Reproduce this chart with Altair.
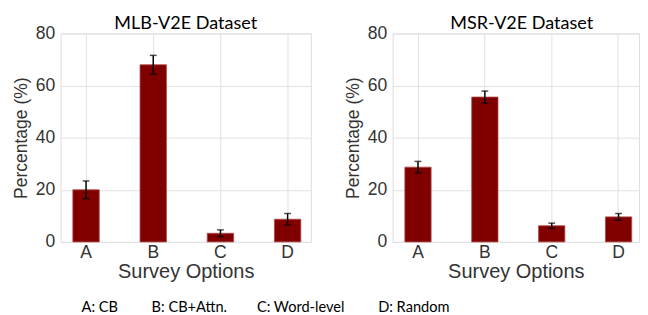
import altair as alt
import pandas as pd

options = ["A", "B", "C", "D"]
mlb_values = [20.0, 68.0, 3.3, 8.7]
mlb_errors = [3.4, 3.6, 1.3, 2.2]
msr_values = [28.7, 55.6, 6.2, 9.6]
msr_errors = [2.2, 2.3, 1.0, 1.3]
legend_labels = ["A: CB", "B: CB+Attn.", "C: Word-level", "D: Random"]
legend_gaps = [9, 8, 9]

BAR = "#800000"


def panel(title, values, errors, width, pad_outer, align, title_dx):
    df = pd.DataFrame({"option": options, "value": values, "err": errors})
    df["lo"] = df["value"] - df["err"]
    df["hi"] = df["value"] + df["err"]
    base = alt.Chart(df)
    xscale = alt.Scale(paddingInner=0.607, paddingOuter=pad_outer, align=align)
    x = alt.X(
        "option:N",
        scale=xscale,
        axis=alt.Axis(
            title="Survey Options",
            labelAngle=0,
            bandPosition=0.5,
            grid=True,
            labelPadding=2,
            titlePadding=1,
            titleFontSize=20.5,
        ),
    )
    y = alt.Y(
        "value:Q",
        scale=alt.Scale(domain=[0, 80], nice=False),
        axis=alt.Axis(
            values=[0, 20, 40, 60, 80],
            title="Percentage (%)",
            labelPadding=6,
            titlePadding=5,
            titleFontSize=18,
        ),
    )
    bars = base.mark_bar(color=BAR, stroke="#b04848", strokeWidth=0.8).encode(x=x, y=y)
    rule = base.mark_rule(color="black", strokeWidth=1.5).encode(
        x=alt.X("option:N", scale=xscale), y=alt.Y("lo:Q"), y2="hi:Q"
    )
    cap_hi = base.mark_tick(color="black", size=7, thickness=1.5).encode(
        x=alt.X("option:N", scale=xscale), y="hi:Q"
    )
    cap_lo = base.mark_tick(color="black", size=7, thickness=1.5).encode(
        x=alt.X("option:N", scale=xscale), y="lo:Q"
    )
    return alt.layer(bars, rule, cap_hi, cap_lo).properties(
        width=width,
        height=214,
        title=alt.TitleParams(
            text=title,
            font="Lato",
            fontSize=18.5,
            fontWeight="normal",
            color="black",
            offset=-8,
            dx=title_dx,
        ),
    )


left = panel("MLB-V2E Dataset", mlb_values, mlb_errors, 257, 0.166, 0.55, 0)
right = panel("MSR-V2E Dataset", msr_values, msr_errors, 253, 0.146, 0.625, 6)

legend_text = legend_labels[0]
for gap, label in zip(legend_gaps, legend_labels[1:]):
    legend_text += "\u00a0" * gap + label

chart = (
    alt.hconcat(left, right, spacing=33)
    .properties(
        title=alt.TitleParams(
            text=legend_text,
            orient="bottom",
            anchor="start",
            dx=71,
            font="Lato",
            fontSize=15,
            fontWeight="normal",
            color="black",
            offset=18,
        ),
        padding={"left": 4, "top": 2, "right": 0, "bottom": 0},
    )
    .configure_view(stroke="#dddddd", strokeWidth=1)
    .configure_axis(
        domain=False,
        ticks=False,
        tickSize=0,
        gridColor="#e0e0e0",
        gridWidth=1,
        labelFont="Liberation Sans",
        labelFontSize=18,
        labelColor="#333333",
        titleFont="Liberation Sans",
        titleFontWeight="normal",
        titleColor="#333333",
    )
)

chart.save("out.html", embed_options={"renderer": "svg", "actions": False})
